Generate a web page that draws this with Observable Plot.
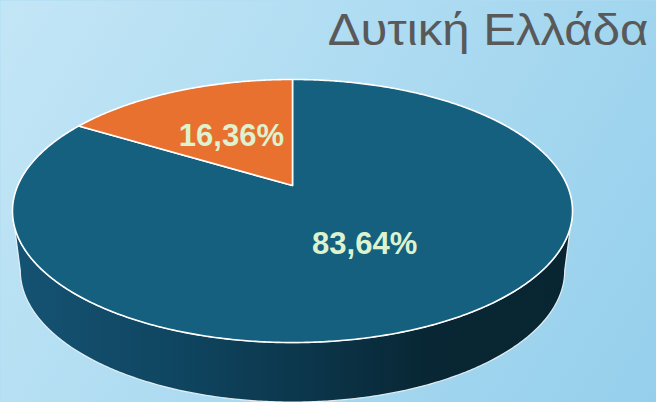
<!DOCTYPE html>
<html><head><meta charset="utf-8">
<script src="https://cdn.jsdelivr.net/npm/d3@7"></script>
<script src="https://cdn.jsdelivr.net/npm/@observablehq/plot@0.6"></script>
<style>body{margin:0;background:#b0dcf2;} #chart svg{display:block}</style>
</head><body><div id="chart"></div>
<script>
const title = "Δυτική Ελλάδα";
const categories = ["Κατηγορία Α", "Κατηγορία Β"];
const values = [83.64, 16.36];
const valueLabels = ["83,64%", "16,36%"];
const colors = ["#155f7f", "#e8712f"];

// 3D perspective layout of the pie (pixels)
const CX = 292, CY = 185, A = 274.7, B = 126.6, K = 0.194, DEPTH = 59.5, BSCALE = 0.972;
function proj(theta, r = 1, bottom = false) {
  const t = theta * Math.PI / 180;
  const X = r * Math.sin(t), Z = -r * Math.cos(t);
  const w = 1 - K * Z;
  let x = CX + A * X / w, y = CY + B * Z / w;
  if (bottom) { x = CX + BSCALE * (x - CX); y += DEPTH; }
  return {x, y};
}
function arc(a0, a1, bottom) {
  const n = Math.max(2, Math.ceil(Math.abs(a1 - a0) / 0.5));
  return d3.range(n + 1).map(i => proj(a0 + (a1 - a0) * i / n, 1, bottom));
}

const total = d3.sum(values);
let acc = 0;
const slices = values.map((v, i) => {
  const a0 = acc / total * 360; acc += v; const a1 = acc / total * 360;
  const c = proj(0, 0);
  const pts = [c, ...arc(a0, a1, false), c];
  const mid = (a0 + a1) / 2;
  const lp = proj(mid, 0.49);
  return {category: categories[i], color: colors[i], pts, label: valueLabels[i], lx: lp.x, ly: lp.y};
});

// visible front side (between the silhouette angles)
const sil = Math.acos(-K) * 180 / Math.PI;
const topFront = arc(sil, 360 - sil, false);
const botFront = arc(360 - sil, sil, true);
const side = [...topFront, ...botFront, topFront[0]];

const svg = Plot.plot({
  width: 656, height: 402, margin: 0,
  x: {domain: [0, 656], range: [0, 656], axis: null},
  y: {domain: [0, 402], range: [0, 402], axis: null},
  marks: [
    Plot.frame({fill: "url(#bgGrad)", stroke: "none"}),
    Plot.line(side, {x: "x", y: "y", fill: "url(#sideGrad)", stroke: "#eef7fb", strokeWidth: 1.2, strokeOpacity: 0.9}),
    ...slices.map(s => Plot.line(s.pts, {x: "x", y: "y", fill: s.color, stroke: "white", strokeWidth: 1.6, strokeLinejoin: "round"})),
    Plot.text(slices, {x: "lx", y: "ly", text: "label", fill: "#ddf2cf", fontSize: 31, fontWeight: "bold", fontFamily: "Liberation Sans, Arial, sans-serif"}),
    Plot.text([title], {frameAnchor: "top-right", textAnchor: "end", lineAnchor: "top", dx: -8, dy: 13, fontSize: 44, fill: "#595959", fontFamily: "Liberation Sans, Arial, sans-serif"})
  ]
});
svg.insertAdjacentHTML("afterbegin", `<defs>
<linearGradient id="bgGrad" gradientUnits="userSpaceOnUse" x1="0" y1="0" x2="656" y2="402">
<stop offset="0" stop-color="#c3e6f6"/><stop offset="1" stop-color="#95cfec"/></linearGradient>
<linearGradient id="sideGrad" gradientUnits="userSpaceOnUse" x1="12" y1="0" x2="572" y2="0">
<stop offset="0" stop-color="#155373"/><stop offset="0.3" stop-color="#0f4560"/><stop offset="0.55" stop-color="#0b3448"/><stop offset="0.75" stop-color="#082633"/><stop offset="1" stop-color="#092532"/></linearGradient>
</defs>`);
document.getElementById("chart").appendChild(svg);
// the reference title is set slightly wide: stretch its glyphs to the same length
const textGroups = svg.querySelectorAll('g[aria-label="text"]');
const titleText = textGroups[textGroups.length - 1].querySelector("text");
const len = titleText.getComputedTextLength();
const sx = len > 0 ? 321 / len : 1;
const tr = titleText.getAttribute("transform") || "";
titleText.setAttribute("transform", tr + ` scale(${sx},1)`);
</script></body></html>
